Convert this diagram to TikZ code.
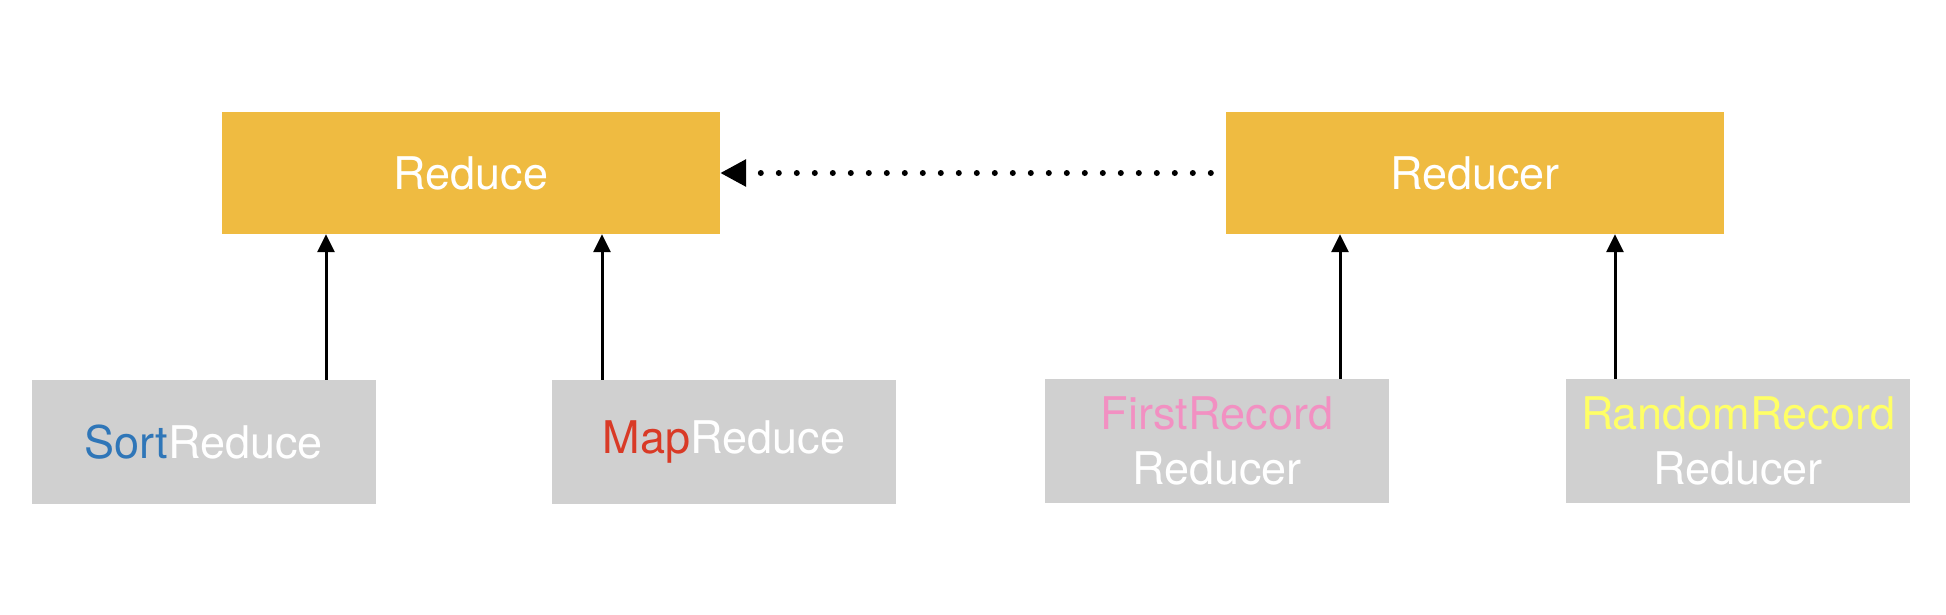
\documentclass[tikz,border=0pt]{standalone}
\usepackage{fontspec}
\setmainfont{TeX Gyre Heros}
\usetikzlibrary{arrows.meta}
\definecolor{boxorange}{HTML}{EFBB41}
\definecolor{boxgray}{HTML}{D0D0D0}
\definecolor{txtblue}{HTML}{2F76B8}
\definecolor{txtred}{HTML}{D93A26}
\definecolor{txtpink}{HTML}{F290C2}
\definecolor{txtyellow}{HTML}{FFFF66}
\tikzset{
  topbox/.style={fill=boxorange, draw=none, minimum width=498pt, minimum height=122pt, inner sep=0pt, text=white, font=\fontsize{45}{55}\selectfont, align=center},
  lowbox/.style={fill=boxgray, draw=none, minimum width=344pt, minimum height=124pt, inner sep=0pt, text=white, font=\fontsize{45}{55}\selectfont, align=center},
  inherit/.style={line width=3pt, -{Triangle[length=18pt,width=17pt]}},
  implement/.style={line width=6pt, line cap=round, dash pattern=on 0pt off 18pt, -{Triangle[length=26pt,width=26pt,line cap=butt]}}
}
\begin{document}
\begin{tikzpicture}[x=1pt,y=-1pt]
\useasboundingbox (0,0) rectangle (1946,614);
\node[topbox] (reduce) at (471,173) {Reduce};
\node[topbox] (reducer) at (1475,173) {Reducer};
\node[lowbox] (sort) at (203.5,442) {\textcolor{txtblue}{Sort}Reduce};
\node[lowbox] (map) at (724,442) {\textcolor{txtred}{Map}Reduce};
\node[lowbox] (first) at (1217,441) {\textcolor{txtpink}{FirstRecord}\\Reducer};
\node[lowbox] (random) at (1738,441) {\textcolor{txtyellow}{RandomRecord}\\Reducer};
\coordinate (c1) at (326,0);
\coordinate (c2) at (602,0);
\coordinate (c3) at (1340,0);
\coordinate (c4) at (1615,0);
\draw[inherit] (sort.north -| c1) -- (reduce.south -| c1);
\draw[inherit] (map.north -| c2) -- (reduce.south -| c2);
\draw[inherit] (first.north -| c3) -- (reducer.south -| c3);
\draw[inherit] (random.north -| c4) -- (reducer.south -| c4);
\draw[implement] ([xshift=-15pt]reducer.west) -- (reduce.east);
\end{tikzpicture}
\end{document}
